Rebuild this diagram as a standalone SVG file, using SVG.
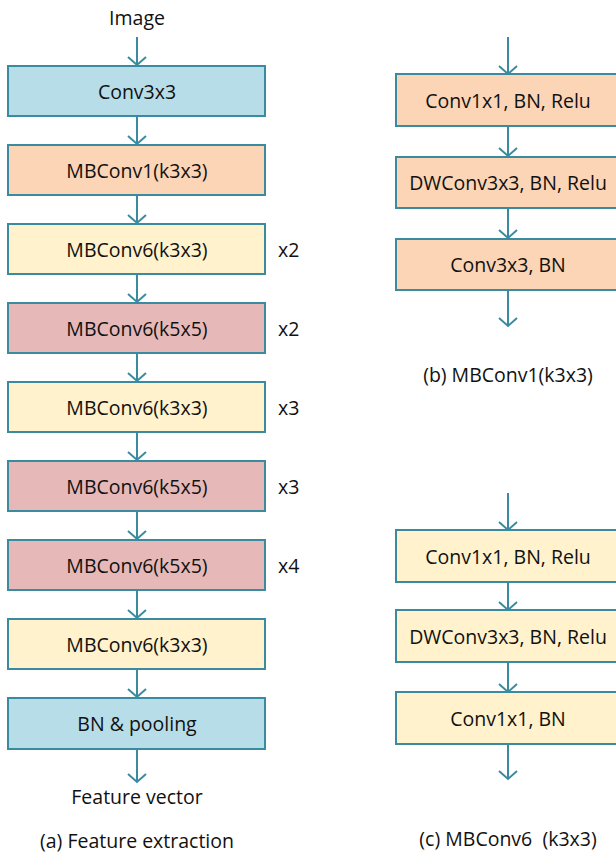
<svg xmlns="http://www.w3.org/2000/svg" width="616" height="853" viewBox="0 0 616 853">
<defs>
<marker id="ah" markerWidth="20" markerHeight="20" refX="10" refY="10" orient="auto" markerUnits="userSpaceOnUse" viewBox="0 0 20 20">
<path d="M2,1 L10,10 L2,19" fill="none" stroke="#3a8ba0" stroke-width="2"/>
</marker>
</defs>
<style>
text{font-family:"Open Sans","Noto Sans","DejaVu Sans",sans-serif;font-size:19.5px;fill:#111;text-anchor:middle;dominant-baseline:central}
.bx{stroke:#3a8ba0;stroke-width:2}
.blue{fill:#b7dde8}.org{fill:#fbd5b5}.yel{fill:#fff2cc}.pink{fill:#e6b9b8}
.ln{stroke:#3a8ba0;stroke-width:2;fill:none;marker-end:url(#ah)}
.rep{text-anchor:start}
</style>
<rect width="616" height="853" fill="#fff"/>
<g id="connectors">
<line class="ln" x1="137" y1="37" x2="137" y2="65"/>
<line class="ln" x1="137" y1="116" x2="137" y2="144"/>
<line class="ln" x1="137" y1="195" x2="137" y2="223"/>
<line class="ln" x1="137" y1="274" x2="137" y2="302"/>
<line class="ln" x1="137" y1="353" x2="137" y2="381"/>
<line class="ln" x1="137" y1="432" x2="137" y2="460"/>
<line class="ln" x1="137" y1="511" x2="137" y2="539"/>
<line class="ln" x1="137" y1="590" x2="137" y2="618"/>
<line class="ln" x1="137" y1="669" x2="137" y2="697"/>
<line class="ln" x1="137" y1="749" x2="137" y2="782"/>
<line class="ln" x1="508" y1="37" x2="508" y2="74"/>
<line class="ln" x1="508" y1="126" x2="508" y2="156"/>
<line class="ln" x1="508" y1="208" x2="508" y2="238"/>
<line class="ln" x1="508" y1="290" x2="508" y2="326"/>
<line class="ln" x1="508" y1="493" x2="508" y2="530"/>
<line class="ln" x1="508" y1="582" x2="508" y2="610"/>
<line class="ln" x1="508" y1="662" x2="508" y2="692"/>
<line class="ln" x1="508" y1="744" x2="508" y2="779"/>
</g>
<text x="137" y="17">Image</text>
<g id="n1"><rect class="bx blue" x="8" y="66" width="257" height="50"/><text x="137" y="91">Conv3x3</text></g>
<g id="n2"><rect class="bx org" x="8" y="145" width="257" height="50"/><text x="137" y="170">MBConv1(k3x3)</text></g>
<g id="n3"><rect class="bx yel" x="8" y="224" width="257" height="50"/><text x="137" y="249">MBConv6(k3x3)</text><text class="rep" x="278" y="249">x2</text></g>
<g id="n4"><rect class="bx pink" x="8" y="303" width="257" height="50"/><text x="137" y="328">MBConv6(k5x5)</text><text class="rep" x="278" y="328">x2</text></g>
<g id="n5"><rect class="bx yel" x="8" y="382" width="257" height="50"/><text x="137" y="407">MBConv6(k3x3)</text><text class="rep" x="278" y="407">x3</text></g>
<g id="n6"><rect class="bx pink" x="8" y="461" width="257" height="50"/><text x="137" y="486">MBConv6(k5x5)</text><text class="rep" x="278" y="486">x3</text></g>
<g id="n7"><rect class="bx pink" x="8" y="540" width="257" height="50"/><text x="137" y="565">MBConv6(k5x5)</text><text class="rep" x="278" y="565">x4</text></g>
<g id="n8"><rect class="bx yel" x="8" y="619" width="257" height="50"/><text x="137" y="644">MBConv6(k3x3)</text></g>
<g id="n9"><rect class="bx blue" x="8" y="698" width="257" height="51"/><text x="137" y="723">BN &amp; pooling</text></g>
<text x="137" y="796">Feature vector</text>
<text x="137" y="840">(a) Feature extraction</text>
<g id="b1"><rect class="bx org" x="396" y="74" width="226" height="52"/><text x="508" y="100">Conv1x1, BN, Relu</text></g>
<g id="b2"><rect class="bx org" x="396" y="157" width="226" height="51"/><text x="508" y="182">DWConv3x3, BN, Relu</text></g>
<g id="b3"><rect class="bx org" x="396" y="239" width="226" height="51"/><text x="508" y="264">Conv3x3, BN</text></g>
<text x="508" y="374">(b) MBConv1(k3x3)</text>
<g id="c1"><rect class="bx yel" x="396" y="530" width="226" height="52"/><text x="508" y="556">Conv1x1, BN, Relu</text></g>
<g id="c2"><rect class="bx yel" x="396" y="610" width="226" height="52"/><text x="508" y="636">DWConv3x3, BN, Relu</text></g>
<g id="c3"><rect class="bx yel" x="396" y="692" width="226" height="52"/><text x="508" y="718">Conv1x1, BN</text></g>
<text x="508" y="838" xml:space="preserve">(c) MBConv6  (k3x3)</text>
</svg>
